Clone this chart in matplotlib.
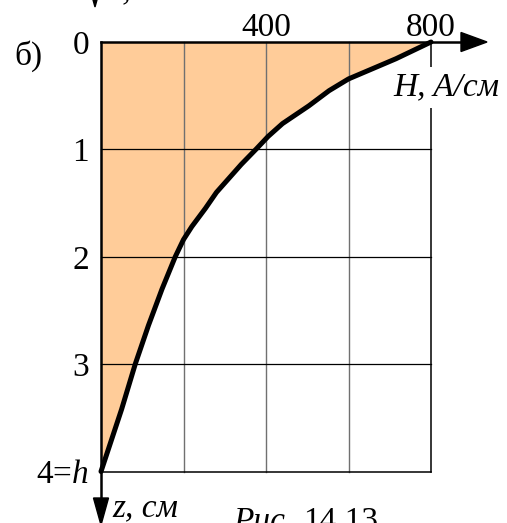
import matplotlib.pyplot as plt
import numpy as np
from matplotlib.patches import Polygon

plt.rcParams['font.family'] = ['Liberation Serif', 'DejaVu Serif']
plt.rcParams['mathtext.fontset'] = 'custom'
plt.rcParams['mathtext.rm'] = 'Liberation Serif'
plt.rcParams['mathtext.it'] = 'Liberation Serif:italic'

# H(z) along the depth of the plate
H_curve = [800, 715, 600, 553, 504, 440, 405, 378, 340, 310, 280, 253, 220, 200, 180,
           148, 115, 83, 50, 0]
z_curve = [0, 0.156, 0.344, 0.453, 0.594, 0.76, 0.88, 0.99, 1.14, 1.27, 1.40, 1.55,
           1.72, 1.84, 2.0, 2.30, 2.64, 3.0, 3.42, 4.0]

H_ticks = [400, 800]
H_grid = [200, 400, 600]
z_ticks = [0, 1, 2, 3]
z_grid = [1, 2, 3]
H_max, z_max = 800, 4

W, HT = 507, 523
fig = plt.figure(figsize=(W / 100, HT / 100), dpi=100)
ax = fig.add_axes([0, 0, 1, 1])

# pixel position of H=0 / H=800 and z=0 / z=4
px_x0, px_x1 = 101, 431
px_y0, px_y1 = 42, 471.5
sx = H_max / (px_x1 - px_x0)
sy = z_max / (px_y1 - px_y0)
ax.set_xlim(-px_x0 * sx, (W - px_x0) * sx)
ax.set_ylim((HT - px_y0) * sy, -px_y0 * sy)
ax.axis('off')


def px(x, y):
    return (x - px_x0) * sx, (y - px_y0) * sy


# shaded region between the axes and the curve
ax.fill(H_curve + [0], z_curve + [0], color='#FFCC99', lw=0, zorder=1)

for h in H_grid:
    ax.plot([h, h], [0, z_max], color='#707070', lw=1, zorder=2)
for z in z_grid:
    ax.plot([0, H_max], [z, z], color='k', lw=0.9, zorder=2)
ax.plot([0, H_max], [z_max, z_max], color='k', lw=1.1, zorder=2)
ax.plot([H_max, H_max], [0, z_max], color='k', lw=1.1, zorder=2)

# H axis (top) with arrow
tip_x, _ = px(487, px_y0)
head_l = 26 * sx
head_w = 9.5 * sy
ax.plot([0, tip_x - head_l], [0, 0], color='k', lw=1.8, zorder=4)
ax.add_patch(Polygon([[tip_x, 0], [tip_x - head_l, -head_w], [tip_x - head_l, head_w]],
                     closed=True, color='k', zorder=4))

# z axis (left) with arrow
_, tip_z = px(px_x0, 525)
head_lz = 27 * sy
head_wz = 7.5 * sx
ax.plot([0, 0], [0, tip_z - head_lz], color='k', lw=1.8, zorder=4)
ax.add_patch(Polygon([[0, tip_z], [-head_wz, tip_z - head_lz], [head_wz, tip_z - head_lz]],
                     closed=True, color='k', zorder=4))

fs = 24

# axis of the neighbouring panel above
ax_x, ax_tip = px(95, 7)
ax.add_patch(Polygon([[ax_x, ax_tip], [ax_x - head_wz, ax_tip - head_lz],
                      [ax_x + head_wz, ax_tip - head_lz]], closed=True, color='k', zorder=4))
bx, by = px(102, -1)
ax.text(bx, by, 'B, Тл', fontsize=fs, style='italic', va='baseline', ha='left')

ax.plot(H_curve, z_curve, color='k', lw=3.6, solid_capstyle='round',
        solid_joinstyle='round', zorder=5)

lx, _ = px(89, 0)
for z in z_ticks:
    ax.text(lx, z, str(z), fontsize=fs, ha='right', va='center_baseline')
ax.text(lx, z_max, '4=$h$', fontsize=fs, ha='right', va='center_baseline')

_, ty = px(0, 24)
for h in H_ticks:
    ax.text(h, ty, str(h), fontsize=fs, ha='center', va='center_baseline')

hx, hy = px(393, 84)
ax.text(hx, hy, 'H, A/см', fontsize=fs, style='italic', ha='left', va='center_baseline',
        bbox=dict(facecolor='white', edgecolor='none', pad=4), zorder=6)

bx, by = px(14, 53)
ax.text(bx, by, 'б)', fontsize=fs, ha='left', va='center_baseline')

zx, zy = px(112, 505)
ax.text(zx, zy, 'z, см', fontsize=fs, style='italic', ha='left', va='center_baseline')

rx, ry = px(233, 530)
ax.text(rx, ry, 'Рис.', fontsize=fs, style='italic', ha='left', va='baseline')
rx2, _ = px(303, 530)
ax.text(rx2, ry, '14.13', fontsize=fs, ha='left', va='baseline')

fig.savefig('out.png', dpi=100)
